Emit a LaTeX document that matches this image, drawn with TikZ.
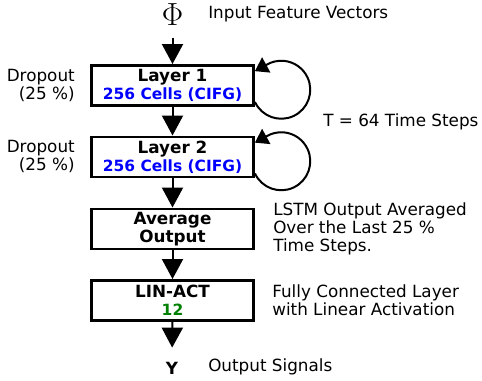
\documentclass[tikz,border=0pt]{standalone}
\usepackage{fontspec}
\setmainfont{DejaVu Sans}
\newfontfamily\phifont{Latin Modern Roman}
\usetikzlibrary{arrows.meta,calc}
\definecolor{cellblue}{RGB}{0,0,255}
\definecolor{unitgreen}{RGB}{0,128,0}
\newcommand{\cellinfo}[2]{\textcolor{#1}{\fontsize{11.6}{13.5}\selectfont #2}}
\tikzset{
  layer/.style={draw, line width=2.2pt, minimum width=121.5pt, minimum height=30pt, inner sep=0pt, align=center, font=\fontsize{12.6}{13.5}\selectfont\bfseries},
  note/.style={inner sep=0pt, align=left},
  flow/.style={-{Triangle[width=15.75pt,length=15pt]}, line width=1.5pt},
  recur/.style={-{Triangle[width=12.75pt,length=9.75pt]}, line width=1.5pt},
}
\begin{document}
\begin{tikzpicture}[x=0.75pt, y=-0.75pt, font=\fontsize{12.6}{13.5}\selectfont]
\useasboundingbox (0,0) rectangle (482,381);
\node[inner sep=0pt, font=\phifont\fontsize{24}{24}\selectfont] (phi) at (172.5,14.5) {Φ};
\node[note, anchor=west] (inlbl) at (208,14) {Input Feature Vectors};
\node[layer] (l1) at (172.5,85.5) {Layer 1\\\cellinfo{cellblue}{256 Cells (CIFG)}};
\node[layer] (l2) at (172.5,157) {Layer 2\\\cellinfo{cellblue}{256 Cells (CIFG)}};
\node[layer] (avg) at (172.5,229) {Average\\Output};
\node[layer] (lin) at (172.5,300.5) {LIN-ACT\\\cellinfo{unitgreen}{12}};
\node[inner sep=0pt, font=\fontsize{12.6}{13.5}\selectfont\bfseries] (y) at (172,368) {Y};
\node[note, anchor=west] (outlbl) at (208,367) {Output Signals};
% side notes
\node[note, anchor=east, align=right] (drop1) at (75,85.5) {Dropout\\(25 \%)};
\node[note, anchor=east, align=right] (drop2) at (75,156.5) {Dropout\\(25 \%)};
\node[note, anchor=west] (steps) at (323,122) {T = 64 Time Steps};
\node[note, anchor=west] (avglbl) at (273,228.5) {LSTM Output Averaged\\Over the Last 25 \%\\Time Steps.};
\node[note, anchor=west] (linlbl) at (272,300) {Fully Connected Layer\\with Linear Activation};
% connectors
\draw[flow, shorten <=9pt] (phi) -- (l1);
\draw[flow] (l1) -- (l2);
\draw[flow] (l2) -- (avg);
\draw[flow] (avg) -- (lin);
\draw[flow, shorten >=10.5pt] (lin) -- (y);
\draw[recur] ($(l1.east)+(0,16.5)$) arc[start angle=155, end angle=-122, radius=29] -- ++(-11,6);
\draw[recur] ($(l2.east)+(0,16.5)$) arc[start angle=155, end angle=-122, radius=29] -- ++(-11,6);
\end{tikzpicture}
\end{document}
